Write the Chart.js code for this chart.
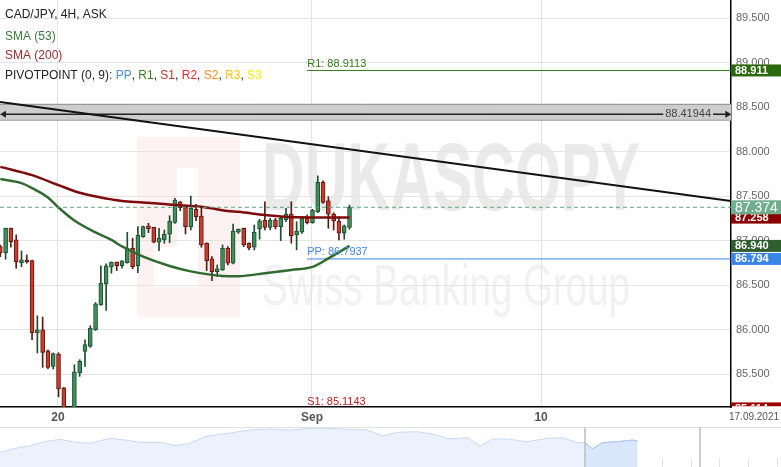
<!DOCTYPE html>
<html>
<head>
<meta charset="utf-8">
<script src="https://cdn.jsdelivr.net/npm/chart.js@4.4.0/dist/chart.umd.min.js"></script>
<style>
  html, body { margin: 0; padding: 0; background: #fff; overflow: hidden; }
  #top { position: absolute; left: 0; top: 0; width: 781px; height: 427px; }
  #bottom { position: absolute; left: 0; top: 427px; width: 781px; height: 40px; }
</style>
</head>
<body>
<div id="top"><canvas id="main"></canvas></div>
<div id="bottom"><canvas id="nav"></canvas></div>
<script>
// CAD/JPY 4H candles
const open  = [86.932,86.864,87.138,87.007,86.752,86.783,86.775,85.961,85.998,85.762,85.586,85.725,85.344,85.050,85.000,85.512,85.754,85.811,85.998,86.278,86.510,86.701,86.757,86.719,86.752,86.914,86.719,87.044,87.167,87.149,86.981,87.007,87.071,87.205,87.436,87.373,87.156,87.351,87.276,86.970,86.794,86.651,86.670,86.914,86.746,87.093,87.138,86.970,86.925,87.130,87.231,87.149,87.231,87.156,87.231,87.298,87.063,87.093,87.250,87.201,87.324,87.654,87.447,87.298,87.220,87.082,87.149];
const high  = [86.950,87.140,87.140,87.063,86.883,86.839,86.780,86.155,86.140,85.770,85.737,85.740,85.350,85.090,85.605,85.661,85.886,86.043,86.304,86.715,86.738,86.760,86.760,86.775,87.093,87.026,87.156,87.163,87.194,87.150,87.138,87.119,87.279,87.474,87.440,87.399,87.500,87.407,87.373,86.975,86.820,86.726,86.951,86.932,87.186,87.130,87.140,86.975,87.175,87.239,87.436,87.250,87.250,87.268,87.362,87.436,87.212,87.268,87.287,87.351,87.728,87.672,87.492,87.313,87.268,87.175,87.399];
const low   = [86.820,86.790,86.925,86.689,86.707,86.746,85.886,85.737,85.575,85.561,85.557,85.243,84.980,84.920,84.950,85.474,85.586,85.800,85.990,86.270,86.214,86.633,86.663,86.690,86.746,86.682,86.640,87.037,87.089,86.975,86.887,86.970,86.976,87.194,87.335,87.074,87.119,87.223,86.925,86.663,86.550,86.595,86.663,86.726,86.738,87.080,86.932,86.895,86.895,87.015,87.119,87.119,87.130,86.999,87.212,86.970,86.895,87.080,87.186,87.194,87.313,87.418,87.138,87.119,87.007,87.015,87.127];
const close = [86.864,87.138,86.988,86.763,86.783,86.764,85.961,85.998,85.743,85.575,85.729,85.333,85.050,84.990,85.524,85.642,85.830,86.017,86.289,86.521,86.715,86.757,86.719,86.771,86.914,86.707,87.063,87.156,87.133,86.981,87.026,87.074,87.220,87.455,87.369,87.156,87.362,87.268,86.951,86.775,86.651,86.682,86.914,86.746,87.108,87.127,86.951,86.914,87.093,87.223,87.149,87.231,87.156,87.250,87.298,87.055,87.108,87.250,87.201,87.343,87.654,87.429,87.298,87.220,87.082,87.167,87.374];

// moving averages, read at a few candles
const sma53X  = [0,4,6,9,11,14,18,21,23,27,32,36,42,45,50,55,59,62,66];
const sma53Y  = [87.691,87.646,87.590,87.485,87.371,87.225,87.091,87.007,86.934,86.820,86.715,86.654,86.603,86.600,86.633,86.670,86.704,86.799,86.940];
const sma200X = [0,6,11,15,19,21,23,27,31,33,38,40,43,45,50,56,66];
const sma200Y = [87.828,87.735,87.623,87.537,87.485,87.463,87.444,87.429,87.410,87.399,87.380,87.362,87.332,87.324,87.287,87.261,87.258];

// pivot points (0, 9)
const pivotStart = 58;
const R1 = 88.9113, PP = 86.7937, S1 = 85.1143;

// drawings
const trendX = [-0.06, 138.1];
const trendY = [88.558, 87.444];
const bandTop = 88.531, bandBottom = 88.352, bandMid = 88.41944;

// axes
const xMin = -0.06, xMax = 138.1;
const yMin = 85.130, yMax = 89.703;
const xTickPos = [10.9, 58.9, 102.2];
const xTickLabels = ['20', 'Sep', '10'];
const lastDate = '17.09.2021';

// navigator overview
const navT = [0,6,12,18,24,30,36,44,50,56,64,70,76,82,88,94,100,108,116,124,131,139,147,153,159,167,175,179,187,192,197,203,211,219,225,231,234,237,241,247,253,255];
const navV = [14.7,18.7,21.3,25.3,27.7,24.7,23.7,28.7,27,24.7,24.7,21.3,23.7,30.3,32.7,34.7,37,38,37,38.7,38.7,37.7,37,31,34.7,35.3,32,28,29.3,21,28,28,25.3,28.7,29.3,24.3,24.3,18,24.3,25.3,27,26];
const navSelFrom = 234;
const navWindow = [234, 280];
const navWeeks = [57.8, 126.4, 172.3, 230];

const FONT = '"Liberation Sans", Arial, sans-serif';
const up = i => close[i] >= open[i];
const last = close[close.length - 1];
const flat = (v, from) => [{x: from, y: v}, {x: xMax, y: v}];

const watermark = {
  id: 'watermark',
  beforeDraw(chart) {
    const c = chart.ctx;
    c.save();
    c.fillStyle = '#fff';
    c.fillRect(0, 0, chart.width, chart.height);
    c.fillStyle = '#fdf1f1';
    c.fillRect(137, 137, 103, 180);
    c.fillStyle = '#fff';
    c.fillRect(177, 168, 21, 119);
    c.fillRect(154, 247, 23, 40);
    c.font = 'bold 96px ' + FONT;
    c.textBaseline = 'alphabetic';
    let w = c.measureText('DUKASCOPY').width;
    c.translate(262, 210);
    c.scale(378 / w, 1);
    c.fillStyle = '#eaeaea';
    c.fillText('DUKASCOPY', 0, 0);
    c.restore();
    c.save();
    c.font = '58px ' + FONT;
    w = c.measureText('Swiss Banking Group').width;
    c.translate(262, 305);
    c.scale(368 / w, 1);
    c.fillStyle = '#f1f1f1';
    c.fillText('Swiss Banking Group', 0, 0);
    c.restore();
  }
};

const overlay = {
  id: 'overlay',
  afterDatasetsDraw(chart) {
    const c = chart.ctx, a = chart.chartArea, xs = chart.scales.x, ys = chart.scales.y;
    c.save();
    c.beginPath(); c.rect(a.left, a.top, a.right - a.left, a.bottom - a.top); c.clip();
    c.font = '11px ' + FONT;
    c.textBaseline = 'bottom';
    c.textAlign = 'left';
    const px = xs.getPixelForValue(pivotStart);
    c.fillStyle = '#2e7d12'; c.fillText('R1: ' + R1.toFixed(4), px, ys.getPixelForValue(R1) - 1);
    c.fillStyle = '#3f86e8'; c.fillText('PP: ' + PP.toFixed(4), px, ys.getPixelForValue(PP) - 1);
    c.fillStyle = '#c41a1a'; c.fillText('S1: ' + S1.toFixed(4), px, ys.getPixelForValue(S1) - 1);
    c.fillStyle = '#444'; c.textBaseline = 'middle'; c.textAlign = 'center';
    c.fillText(bandMid.toFixed(5), xs.getPixelForValue(130), ys.getPixelForValue(bandMid));
    c.restore();
  },
  afterDraw(chart) {
    const c = chart.ctx, a = chart.chartArea, ys = chart.scales.y;
    c.save();
    // legend
    c.font = '12px ' + FONT;
    c.textBaseline = 'middle';
    c.textAlign = 'left';
    c.fillStyle = '#222'; c.fillText('CAD/JPY, 4H, ASK', 5, 15);
    c.fillStyle = '#3c7a3c'; c.fillText('SMA (53)', 5, 37);
    c.fillStyle = '#9a2a2a'; c.fillText('SMA (200)', 5, 56);
    const parts = [['PIVOTPOINT (0, 9): ', '#222'], ['PP', '#4a90e2'], [', ', '#222'], ['R1', '#3a7d1e'], [', ', '#222'],
      ['S1', '#c0302a'], [', ', '#222'], ['R2', '#f02a2a'], [', ', '#222'], ['S2', '#ff8c1e'], [', ', '#222'],
      ['R3', '#ffc400'], [', ', '#222'], ['S3', '#ffee00']];
    let x = 5;
    parts.forEach(([t, col]) => { c.fillStyle = col; c.fillText(t, x, 76); x += c.measureText(t).width; });

    // price boxes on the axis
    const box = (v, bg, txt, font, h) => {
      const y = ys.getPixelForValue(v);
      c.fillStyle = bg;
      c.fillRect(a.right, y - h / 2, chart.width - a.right, h);
      c.fillStyle = '#fff';
      c.font = font;
      c.textBaseline = 'middle';
      c.fillText(txt, a.right + 4, y + 0.5);
    };
    box(R1, '#2b6a0c', R1.toFixed(3), 'bold 11px ' + FONT, 12);
    box(sma200Y[sma200Y.length - 1], '#8b0000', sma200Y[sma200Y.length - 1].toFixed(3), 'bold 11px ' + FONT, 12);
    box(last, '#6fae8c', last.toFixed(3), '14px ' + FONT, 14);
    box(sma53Y[sma53Y.length - 1], '#2f5f2f', sma53Y[sma53Y.length - 1].toFixed(3), 'bold 11px ' + FONT, 12);
    box(PP, '#3a86e8', PP.toFixed(3), 'bold 11px ' + FONT, 12);
    c.save();
    c.beginPath(); c.rect(a.right, 0, chart.width - a.right, a.bottom - 0.75); c.clip();
    box(S1, '#a00000', S1.toFixed(3), 'bold 11px ' + FONT, 12);
    c.restore();

    c.font = '10px ' + FONT;
    c.fillStyle = '#555';
    c.textAlign = 'center';
    c.textBaseline = 'middle';
    c.fillText(lastDate, 754, a.bottom + 10);
    c.restore();
  }
};

new Chart(document.getElementById('main'), {
  type: 'line',
  data: {
    datasets: [
      { label: 'price', data: flat(last, xMin), borderColor: '#5fa882', borderWidth: 1, borderDash: [4, 3], pointRadius: 0, order: 0, clip: 0 },
      { label: 'trend', data: trendX.map((v, k) => ({x: v, y: trendY[k]})), borderColor: '#111', borderWidth: 2, pointRadius: 0, order: 1, clip: 0 },
      { label: 'SMA (200)', data: sma200X.map((v, k) => ({x: v, y: sma200Y[k]})), borderColor: '#7e0c0c', borderWidth: 2.5, pointRadius: 0, cubicInterpolationMode: 'monotone', order: 2, clip: 0 },
      { label: 'SMA (53)', data: sma53X.map((v, k) => ({x: v, y: sma53Y[k]})), borderColor: '#2f6b2f', borderWidth: 2.5, pointRadius: 0, cubicInterpolationMode: 'monotone', order: 2, clip: 0 },
      { type: 'bar', label: 'body', data: open.map((o, i) => ({x: i, y: [o, close[i]]})), grouped: false, barThickness: 4,
        backgroundColor: c => up(c.dataIndex) ? '#3e8e5c' : '#cc3a2c',
        borderColor: c => up(c.dataIndex) ? '#1e4d30' : '#5c1a12',
        borderWidth: 1, borderSkipped: false, order: 4, clip: 0 },
      { type: 'bar', label: 'wick', data: open.map((o, i) => ({x: i, y: [low[i], high[i]]})), grouped: false, barThickness: 1,
        backgroundColor: c => up(c.dataIndex) ? '#1e4d30' : '#5c1a12', borderWidth: 0, order: 5, clip: 0 },
      { label: 'R1', data: flat(R1, pivotStart), borderColor: '#2e7d12', borderWidth: 1, pointRadius: 0, order: 6, clip: 0 },
      { label: 'PP', data: flat(PP, pivotStart), borderColor: '#3f86e8', borderWidth: 1, pointRadius: 0, order: 6, clip: 0 },
      { label: 'S1', data: flat(S1, pivotStart), borderColor: '#c41a1a', borderWidth: 1, pointRadius: 0, order: 6, clip: 0 },
      { label: 'range', data: [{x: 0.7, y: bandMid}, {x: 125.3, y: bandMid}, {x: 130, y: null}, {x: 134.7, y: bandMid}, {x: 137.4, y: bandMid}],
        borderColor: '#222', borderWidth: 1.5, spanGaps: false, pointStyle: 'triangle',
        pointRadius: [4, 0, 0, 0, 4], pointRotation: [-90, 0, 0, 0, 90], pointBackgroundColor: '#222', pointBorderWidth: 0, order: 7, clip: 0 },
      { label: 'bandTop', data: flat(bandTop, xMin), borderColor: '#8a8a8a', borderWidth: 1, pointRadius: 0, order: 8, clip: 0 },
      { label: 'bandBottom', data: flat(bandBottom, xMin), borderColor: '#9a9a9a', borderWidth: 1, pointRadius: 0, fill: '-1', backgroundColor: '#cdcdcd', order: 8, clip: 0 }
    ]
  },
  options: {
    responsive: true,
    maintainAspectRatio: false,
    animation: false,
    layout: { padding: 0, autoPadding: false },
    plugins: { legend: { display: false }, tooltip: { enabled: false } },
    scales: {
      x: {
        type: 'linear', min: xMin, max: xMax, offset: false,
        grid: { color: '#e4e4e4', drawTicks: false, offset: false },
        border: { color: '#000', width: 1.5 },
        afterBuildTicks: s => { s.ticks = xTickPos.map(v => ({value: v})); },
        ticks: { padding: 3, maxRotation: 0, autoSkip: false, color: '#555', font: { family: FONT, size: 12, weight: 'bold' },
          callback: (v, i) => xTickLabels[i] },
        afterFit: s => { s.height = 20; s.paddingLeft = 0; s.paddingRight = 0; }
      },
      y: {
        type: 'linear', position: 'right', min: yMin, max: yMax,
        grid: { color: '#e4e4e4', drawTicks: false },
        border: { color: '#000', width: 1.5 },
        ticks: { stepSize: 0.5, includeBounds: false, padding: 5, color: '#666', font: { family: FONT, size: 11 },
          callback: v => Number(v).toFixed(3) },
        afterFit: s => { s.width = 50; s.paddingTop = 0; s.paddingBottom = 0; }
      }
    }
  },
  plugins: [watermark, overlay]
});

const navDecor = {
  id: 'navDecor',
  beforeDatasetsDraw(chart) {
    const c = chart.ctx, xs = chart.scales.x;
    c.save();
    c.strokeStyle = '#e3e3e3';
    c.lineWidth = 1;
    for (let t = 12; t < 312; t += 11.49) {
      const x = Math.round(xs.getPixelForValue(t)) + 0.5;
      c.beginPath(); c.moveTo(x, 31); c.lineTo(x, 40); c.stroke();
    }
    navWeeks.forEach(t => {
      const x = Math.round(xs.getPixelForValue(t)) + 0.5;
      c.beginPath(); c.moveTo(x, 20); c.lineTo(x, 40); c.stroke();
    });
    c.restore();
  },
  afterDraw(chart) {
    const c = chart.ctx, xs = chart.scales.x;
    c.save();
    c.strokeStyle = '#e2e2e2';
    c.lineWidth = 1;
    c.beginPath(); c.moveTo(0, 0.5); c.lineTo(chart.width, 0.5); c.stroke();
    c.strokeStyle = '#bdbdbd';
    c.lineWidth = 1.5;
    navWindow.forEach(t => {
      const x = xs.getPixelForValue(t);
      c.beginPath(); c.moveTo(x, 0); c.lineTo(x, 40); c.stroke();
    });
    c.restore();
  }
};

const navPts = navT.map((t, k) => ({x: t, y: navV[k]}));
new Chart(document.getElementById('nav'), {
  type: 'line',
  data: {
    datasets: [
      { data: navPts.filter(p => p.x >= navSelFrom), borderColor: '#a3c0f0', borderWidth: 1, backgroundColor: '#d9e6fb', fill: 'origin', pointRadius: 0, order: 0 },
      { data: navPts, borderColor: '#c6d9f6', borderWidth: 1, backgroundColor: '#ebf2fd', fill: 'origin', pointRadius: 0, order: 1 }
    ]
  },
  options: {
    responsive: true,
    maintainAspectRatio: false,
    animation: false,
    layout: { padding: 0, autoPadding: false },
    plugins: { legend: { display: false }, tooltip: { enabled: false } },
    scales: {
      x: { type: 'linear', display: false, min: 0, max: 312.4 },
      y: { display: false, min: 0, max: 40 }
    }
  },
  plugins: [navDecor]
});
</script>
</body>
</html>
